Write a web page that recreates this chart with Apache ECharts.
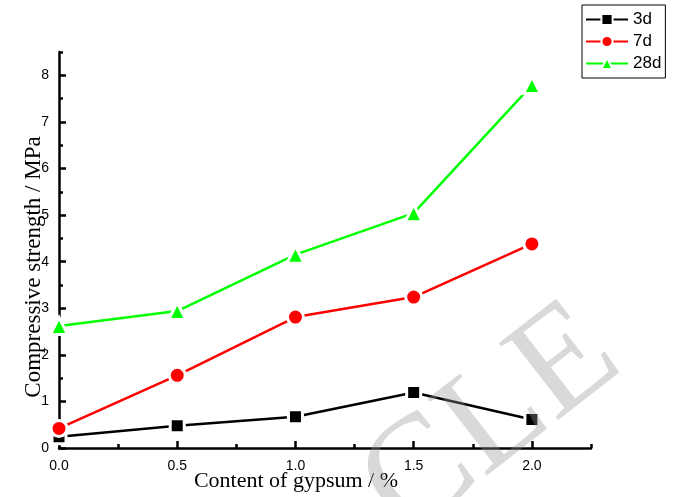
<!DOCTYPE html>
<html>
<head>
<meta charset="utf-8">
<script src="https://cdn.jsdelivr.net/npm/echarts@6/dist/echarts.min.js"></script>
<style>html,body{margin:0;padding:0;background:#fff;}#c{width:677px;height:497px;}</style>
</head>
<body>
<div id="c"></div>
<script>
const gypsum = [0.0, 0.5, 1.0, 1.5, 2.0];
const strength3d = [0.24, 0.48, 0.67, 1.19, 0.61];
const strength7d = [0.42, 1.56, 2.81, 3.24, 4.38];
const strength28d = [2.62, 2.94, 4.15, 5.04, 7.79];
const xMajorTicks = [0, 0.5, 1.0, 1.5, 2.0];
const xMinorTicks = [0.25, 0.75, 1.25, 1.75, 2.25];
const yMajorTicks = [0, 1, 2, 3, 4, 5, 6, 7, 8];
const yMinorTicks = [0.5, 1.5, 2.5, 3.5, 4.5, 5.5, 6.5, 7.5, 8.5];
const seriesNames = ['3d', '7d', '28d'];

const chart = echarts.init(document.getElementById('c'), null, {renderer: 'canvas'});
const pts = arr => gypsum.map((x, i) => [x, arr[i]]);
const gridPos = {left: 59, right: 86, top: 52, bottom: 49, containLabel: false, outerBoundsMode: 'none'};
const sans = 'Liberation Sans, Arial, sans-serif';
const serif = 'Liberation Serif, Times New Roman, serif';

function mkSeries(name, data, color, symbol, size) {
  return {
    name, type: 'line', data: pts(data), xAxisIndex: 0, yAxisIndex: 0,
    symbol, symbolSize: size,
    lineStyle: {color, width: 2.5},
    itemStyle: {color, borderColor: '#fff', borderWidth: 3},
    emphasis: {disabled: true},
    animation: false
  };
}

chart.setOption({
  animation: false,
  grid: [Object.assign({}, gridPos), Object.assign({}, gridPos)],
  legend: {
    orient: 'vertical', left: 582, top: 5,
    data: seriesNames,
    borderColor: '#000', borderWidth: 1,
    padding: [6, 4, 6, 3], itemGap: 5,
    itemWidth: 42, itemHeight: 14,
    textStyle: {fontSize: 17, fontFamily: sans, color: '#000'}
  },
  xAxis: [{
    type: 'value', gridIndex: 0, min: 0, max: 2.25, interval: 0.5,
    name: 'Content of gypsum / %', nameLocation: 'middle', nameGap: 22, nameMoveOverlap: false,
    nameTextStyle: {fontFamily: serif, fontSize: 22, color: '#000', padding: [0, 58, 0, 0]},
    axisLine: {show: true, lineStyle: {color: '#000', width: 2.5}},
    axisTick: {show: true, inside: true, length: 7, lineStyle: {width: 2.5, color: '#000'}, customValues: xMajorTicks},
    axisLabel: {fontFamily: sans, fontSize: 14, color: '#000', margin: 11, customValues: xMajorTicks,
      formatter: v => Number(v).toFixed(1)},
    splitLine: {show: false}
  }, {
    type: 'value', gridIndex: 1, min: 0, max: 2.25, position: 'bottom',
    axisLine: {show: false},
    axisTick: {show: true, inside: true, length: 4, lineStyle: {width: 2.5, color: '#000'}, customValues: xMinorTicks},
    axisLabel: {show: false},
    splitLine: {show: false}
  }],
  yAxis: [{
    type: 'value', gridIndex: 0, min: 0, max: 8.5, interval: 1,
    name: 'Compressive strength / MPa', nameLocation: 'middle', nameGap: 14, nameMoveOverlap: false,
    nameTextStyle: {fontFamily: serif, fontSize: 23, color: '#000', padding: [0, 34, 0, 0]},
    axisLine: {show: true, lineStyle: {color: '#000', width: 2.5}},
    axisTick: {show: true, inside: true, length: 7, lineStyle: {width: 2.5, color: '#000'}, customValues: yMajorTicks},
    axisLabel: {fontFamily: sans, fontSize: 14, color: '#000', margin: 10, customValues: yMajorTicks},
    splitLine: {show: false}
  }, {
    type: 'value', gridIndex: 1, min: 0, max: 8.5, position: 'left',
    axisLine: {show: false},
    axisTick: {show: true, inside: true, length: 4, lineStyle: {width: 2.5, color: '#000'}, customValues: yMinorTicks},
    axisLabel: {show: false},
    splitLine: {show: false}
  }],
  series: [
    mkSeries(seriesNames[0], strength3d, '#000000', 'rect', 14),
    mkSeries(seriesNames[1], strength7d, '#ff0000', 'circle', 16),
    mkSeries(seriesNames[2], strength28d, '#00ff00', 'triangle', 17)
  ],
  graphic: [{
    type: 'text', x: 492, y: 422, rotation: 0.66, z: 100, silent: true,
    style: {text: 'CLE', fontFamily: serif, fontSize: 148, fill: 'rgba(150,150,150,0.36)',
      textAlign: 'center', textVerticalAlign: 'middle'}
  }]
});
</script>
</body>
</html>
